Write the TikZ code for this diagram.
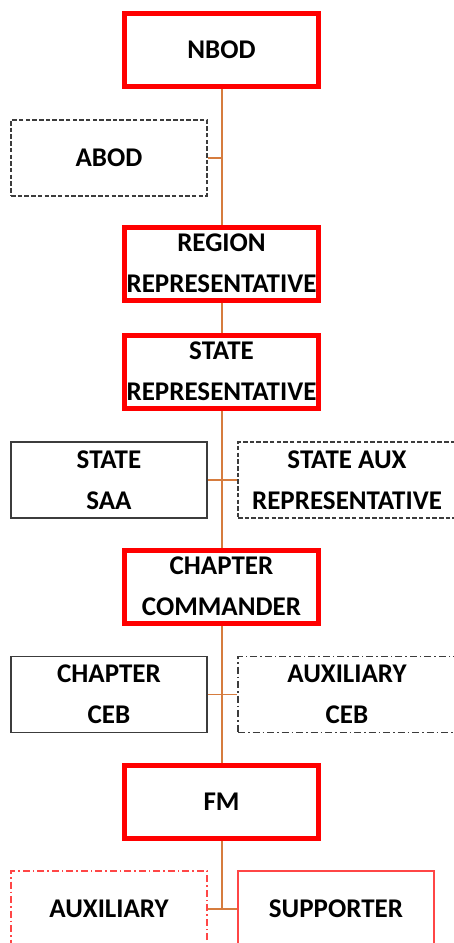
\documentclass[tikz,border=0pt]{standalone}
\usepackage{fontspec}
\setmainfont{Carlito}
\definecolor{linkorange}{RGB}{214,124,62}
\definecolor{boxgray}{RGB}{60,60,60}
\definecolor{softred}{RGB}{255,70,70}

\begin{document}
\begin{tikzpicture}[x=1pt,y=-1pt,
    rankbox/.style={rectangle, draw=red, line width=5pt, minimum width=194pt, minimum height=73pt, inner sep=0pt, align=center, font=\fontsize{27}{41}\selectfont\bfseries},
    sidebox/.style={rectangle, draw=boxgray, line width=1.2pt, minimum width=196pt, minimum height=76pt, inner sep=0pt, align=center, font=\fontsize{27}{41}\selectfont\bfseries},
    dashbox/.style={sidebox, dash pattern=on 4.5pt off 2.2pt},
    dotdashbox/.style={sidebox, dash pattern=on 7pt off 3pt on 1.5pt off 3pt},
    link/.style={draw=linkorange, line width=1.3pt}
    ]
    \useasboundingbox (0,0) rectangle (454,943);

    \node [rankbox] (nbod) at (221.5,50) {NBOD};
    \node [dashbox] (abod) at (109,158) {ABOD};
    \node [rankbox] (region) at (221.5,263.5) {REGION\\REPRESENTATIVE};
    \node [rankbox] (staterep) at (221.5,371.5) {STATE\\REPRESENTATIVE};

    \node [sidebox] (statesaa) at (109,480) {STATE\\SAA};
    \node [dashbox,minimum width=218pt] (stateaux) at (347,480) {STATE AUX\\REPRESENTATIVE};

    \node [rankbox] (chapcmd) at (221.5,586.5) {CHAPTER\\COMMANDER};
    \node [sidebox] (chapceb) at (109,694.5) {CHAPTER\\CEB};
    \node [dotdashbox,minimum width=218pt] (auxceb) at (347,694.5) {AUXILIARY\\CEB};

    \node [rankbox] (fm) at (221.5,801.5) {FM};
    \node [dotdashbox,draw=softred] (auxiliary) at (109,909) {AUXILIARY};
    \node [sidebox,draw=softred] (supporter) at (336,909) {SUPPORTER};

    \coordinate (abodjoin) at (222,158);
    \coordinate (fmjoin) at (222,909);

    % spine
    \draw [link] (nbod.south -| abodjoin) -- (region.north -| abodjoin);
    \draw [link] (region.south -| abodjoin) -- (staterep.north -| abodjoin);
    \draw [link] (staterep.south -| abodjoin) -- (chapcmd.north -| abodjoin);
    \draw [link] (chapcmd.south -| abodjoin) -- (fm.north -| abodjoin);
    \draw [link] (fm.south -| abodjoin) -- (fmjoin);

    % branches
    \draw [link] (abod) -- (abodjoin);
    \draw [link] (statesaa) -- (stateaux);
    \draw [link] (chapceb) -- (auxceb);
    \draw [link] (auxiliary) -- (supporter);
\end{tikzpicture}
\end{document}
